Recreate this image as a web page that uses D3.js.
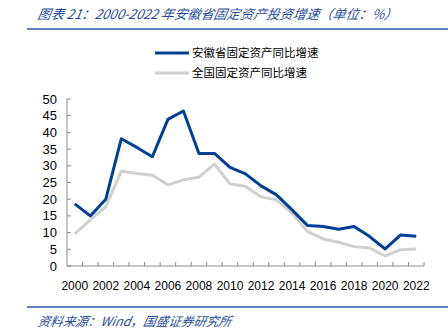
<!DOCTYPE html>
<html><head><meta charset="utf-8">
<script src="https://cdn.jsdelivr.net/npm/d3@7"></script>
<style>body{margin:0;background:#fff;}svg{display:block;}</style>
</head><body>
<svg id="c" width="448" height="330"></svg>
<script>
const years = d3.range(2000, 2023).map(String);
const anhui = [18.6,15.0,20.0,38.1,35.5,32.7,43.9,46.4,33.7,33.7,29.5,27.6,24.0,21.3,16.8,12.1,11.8,11.0,11.8,8.8,5.1,9.3,8.9];
const national = [9.6,13.8,17.8,28.4,27.7,27.2,24.3,25.8,26.6,30.5,24.6,23.8,20.7,19.8,15.8,10.3,8.1,7.1,5.8,5.4,3.0,4.9,5.1];
const yTicks = [0,5,10,15,20,25,30,35,40,45,50];
const xLabels = ["2000","2002","2004","2006","2008","2010","2012","2014","2016","2018","2020","2022"];
const seriesNames = ["安徽省固定资产同比增速","全国固定资产同比增速"];
const titleText = "图表 21：2000-2022 年安徽省固定资产投资增速（单位：%）";
const sourceText = "资料来源：Wind，国盛证券研究所";

const svg = d3.select("#c");
const L = 67, R = 424, T = 99, B = 266;
const x = d3.scaleBand().domain(years).range([L, R]);
const y = d3.scaleLinear().domain([0, 50]).range([B, T]);
const font = "'Liberation Sans', Arial, sans-serif";
const cjk = "'Noto Sans CJK SC', sans-serif";

// title
svg.append("text").attr("x", 37).attr("y", 19).attr("fill", "#1f4e9a")
  .attr("font-family", cjk).attr("font-style", "italic").attr("font-size", 13.2)
  .style("transform", "skewX(-10deg)").style("transform-origin", "37px 19px")
  .text(titleText);
svg.append("line").attr("x1", 27).attr("x2", 448).attr("y1", 29).attr("y2", 29)
  .attr("stroke", "#2a5caa").attr("stroke-width", 1.5);

// axes
const axisColor = "#8c8c8c";
svg.append("line").attr("x1", L).attr("x2", L).attr("y1", T).attr("y2", B).attr("stroke", axisColor);
svg.append("line").attr("x1", L).attr("x2", R).attr("y1", B).attr("y2", B).attr("stroke", axisColor);
yTicks.forEach(t => {
  svg.append("line").attr("x1", L).attr("x2", L + 4).attr("y1", y(t)).attr("y2", y(t)).attr("stroke", axisColor);
  svg.append("text").attr("x", 57).attr("y", y(t)).attr("dy", "0.35em").attr("text-anchor", "end")
    .attr("font-family", font).attr("font-size", 13).attr("fill", "#000").text(t);
});
years.forEach((yr, i) => {
  const xx = x(yr) + x.bandwidth();
  svg.append("line").attr("x1", xx).attr("x2", xx).attr("y1", B).attr("y2", B - 4).attr("stroke", axisColor);
});
xLabels.forEach(lb => {
  svg.append("text").attr("x", x(lb) + x.bandwidth() / 2).attr("y", 290).attr("text-anchor", "middle")
    .attr("font-family", font).attr("font-size", 12).attr("fill", "#000").text(lb);
});

// lines
const line = d3.line().x((d, i) => x(years[i]) + x.bandwidth() / 2).y(d => y(d));
svg.append("path").datum(national).attr("d", line).attr("fill", "none")
  .attr("stroke", "#d0d0d0").attr("stroke-width", 3).attr("stroke-linejoin", "round");
svg.append("path").datum(anhui).attr("d", line).attr("fill", "none")
  .attr("stroke", "#003f98").attr("stroke-width", 3).attr("stroke-linejoin", "round");

// legend
const legendColors = ["#003f98", "#d0d0d0"];
seriesNames.forEach((n, i) => {
  const ly = 53 + i * 20;
  svg.append("line").attr("x1", 155).attr("x2", 189).attr("y1", ly).attr("y2", ly)
    .attr("stroke", legendColors[i]).attr("stroke-width", 3);
  svg.append("text").attr("x", 192).attr("y", ly).attr("dy", "0.35em")
    .attr("font-family", cjk).attr("font-size", 11.5).attr("fill", "#000").text(n);
});

// footer
svg.append("line").attr("x1", 27).attr("x2", 448).attr("y1", 307).attr("y2", 307)
  .attr("stroke", "#2a5caa").attr("stroke-width", 1.5);
svg.append("text").attr("x", 37).attr("y", 326).attr("fill", "#1f4e9a")
  .attr("font-family", cjk).attr("font-style", "italic").attr("font-size", 12.6)
  .style("transform", "skewX(-10deg)").style("transform-origin", "37px 326px")
  .text(sourceText);
</script>
</body></html>
